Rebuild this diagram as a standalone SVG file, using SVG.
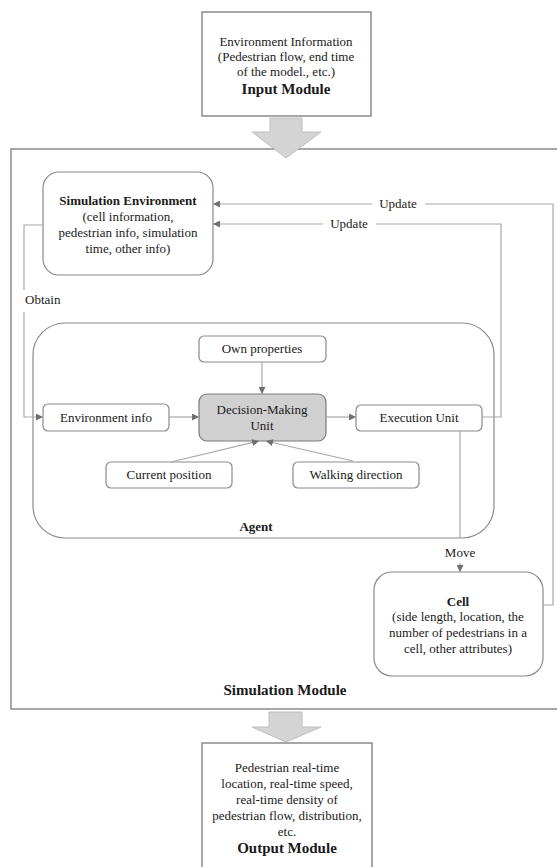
<svg xmlns="http://www.w3.org/2000/svg" width="557" height="867" viewBox="0 0 557 867">
<defs>
<style>
text{font-family:'Liberation Serif','Times New Roman','DejaVu Serif',serif;font-size:13px;fill:#1a1a1a;text-anchor:middle}
.b{font-weight:bold}
.big{font-size:15px}
.box{fill:#fff;stroke:#8a8a8a;stroke-width:1.2}
.mod{fill:#fff;stroke:#8a8a8a;stroke-width:1.5}
.c{fill:none;stroke:#a8a8a8;stroke-width:1.2}
.fat{fill:#d4d4d4;stroke:#bdbdbd;stroke-width:1}
</style>
<marker id="ah" viewBox="0 0 10 10" refX="10" refY="5" markerWidth="7" markerHeight="7" markerUnits="userSpaceOnUse" orient="auto">
<path d="M0,0 L10,5 L0,10 Z" fill="#707070"/>
</marker>
</defs>
<rect width="557" height="867" fill="#fff"/>

<g id="input-module">
<rect class="mod" x="202" y="12" width="169" height="104"/>
<text x="286" y="46">Environment Information</text>
<text x="286" y="61">(Pedestrian flow, end time</text>
<text x="286" y="76">of the model., etc.)</text>
<text class="b big" x="286" y="94">Input Module</text>
</g>

<g id="simulation-module">
<rect class="mod" x="11" y="149" width="548" height="560"/>
<text class="b big" x="285" y="695">Simulation Module</text>
</g>

<g id="arrow-in">
<path class="fat" d="M270,118 H302 V132 H321 L286,158 L252,132 H270 Z"/>
</g>

<g id="arrow-out">
<path class="fat" d="M269,712 H302 V727 H321 L286,742 L252,727 H269 Z"/>
</g>

<g id="output-module">
<rect class="mod" x="202" y="743" width="170" height="130"/>
<text x="287" y="772">Pedestrian real-time</text>
<text x="287" y="788">location, real-time speed,</text>
<text x="287" y="804">real-time density of</text>
<text x="287" y="820">pedestrian flow, distribution,</text>
<text x="287" y="836">etc.</text>
<text class="b big" x="287" y="853">Output Module</text>
</g>

<g id="sim-env">
<rect class="box" x="43" y="172" width="170" height="103" rx="16"/>
<text class="b" x="128" y="205">Simulation Environment</text>
<text x="128" y="221">(cell information,</text>
<text x="128" y="237">pedestrian info, simulation</text>
<text x="128" y="253">time, other info)</text>
</g>

<g id="agent">
<rect class="box" x="33" y="323" width="461" height="215" rx="32"/>
<text class="b" x="256" y="531">Agent</text>
</g>

<g id="own-properties">
<rect class="box" x="199" y="336" width="127" height="26" rx="5"/>
<text x="262" y="353">Own properties</text>
</g>

<g id="decision-making">
<rect x="199" y="394" width="127" height="47" rx="8" fill="#d0d0d0" stroke="#7a7a7a" stroke-width="1.2"/>
<text x="262" y="414">Decision-Making</text>
<text x="262" y="430">Unit</text>
</g>

<g id="environment-info">
<rect class="box" x="43" y="404" width="126" height="27" rx="5"/>
<text x="106" y="422">Environment info</text>
</g>

<g id="execution-unit">
<rect class="box" x="356" y="405" width="126" height="26" rx="5"/>
<text x="419" y="422">Execution Unit</text>
</g>

<g id="current-position">
<rect class="box" x="106" y="462" width="126" height="26" rx="5"/>
<text x="169" y="479">Current position</text>
</g>

<g id="walking-direction">
<rect class="box" x="293" y="462" width="126" height="26" rx="5"/>
<text x="356" y="479">Walking direction</text>
</g>

<g id="cell">
<rect class="box" x="374" y="572" width="169" height="104" rx="18"/>
<text class="b" x="458" y="606">Cell</text>
<text x="458" y="621">(side length, location, the</text>
<text x="458" y="637">number of pedestrians in a</text>
<text x="458" y="653">cell, other attributes)</text>
</g>

<g id="connectors">
<path class="c" d="M543,605 H553 V204 H425"/>
<path class="c" d="M372,204 H213" marker-end="url(#ah)"/>
<text x="398" y="208">Update</text>
<path class="c" d="M482,417 H501 V224 H376"/>
<path class="c" d="M323,224 H213" marker-end="url(#ah)"/>
<text x="349" y="228">Update</text>
<path class="c" d="M43,225 H24 V290"/>
<text x="25" y="304" style="text-anchor:start">Obtain</text>
<path class="c" d="M24,312 V417 H43" marker-end="url(#ah)"/>
<path class="c" d="M169,417 H199" marker-end="url(#ah)"/>
<path class="c" d="M326,417 H356" marker-end="url(#ah)"/>
<path class="c" d="M262,362 V394" marker-end="url(#ah)"/>
<path class="c" d="M171,462 L259,441" marker-end="url(#ah)"/>
<path class="c" d="M353,461 L266,441" marker-end="url(#ah)"/>
<path class="c" d="M460,431 V538"/>
<text x="460" y="557">Move</text>
<path class="c" d="M460,563 V572" marker-end="url(#ah)"/>
</g>
</svg>
